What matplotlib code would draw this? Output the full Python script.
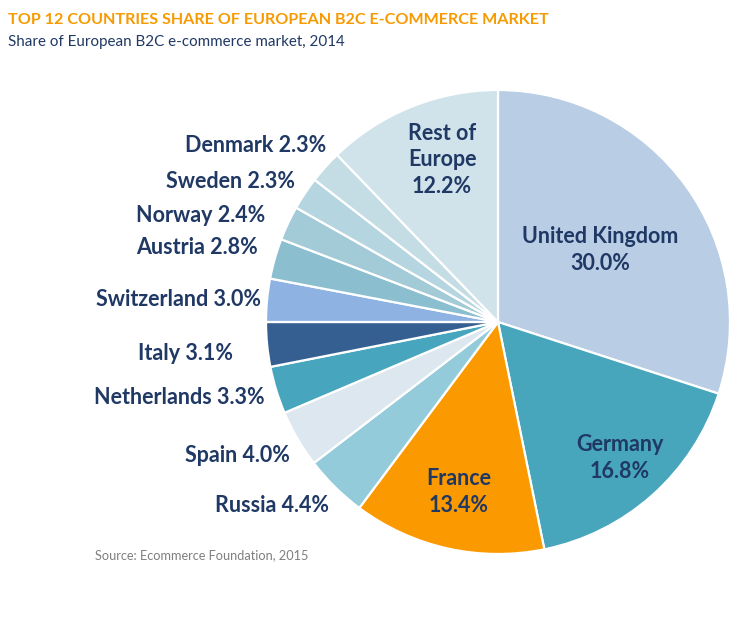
import matplotlib.pyplot as plt

# share of European B2C e-commerce market, 2014 (clockwise from 12 o'clock)
countries = ['United Kingdom', 'Germany', 'France', 'Russia', 'Spain',
             'Netherlands', 'Italy', 'Switzerland', 'Austria', 'Norway',
             'Sweden', 'Denmark', 'Rest of\nEurope']
shares = [30.0, 16.8, 13.4, 4.4, 4.0, 3.3, 3.1, 3.0, 2.8, 2.4, 2.3, 2.3, 12.2]
colors = ['#b9cde5', '#47a5bc', '#fb9a00', '#93cbdb', '#dce7ef', '#47a6bd',
          '#365f91', '#8eb3e3', '#8bbfcf', '#a3cad7', '#b5d6e0', '#c4dde5',
          '#d0e2ea']

navy = '#1f3864'
W, H = 754, 618
cx, cy, r = 498, H - 322, 232

fig = plt.figure(figsize=(W / 100, H / 100), dpi=100)
ax = fig.add_axes([0, 0, 1, 1])
ax.set_xlim(0, W)
ax.set_ylim(0, H)
ax.set_aspect('equal')
ax.axis('off')

ax.pie(shares, colors=colors, startangle=90, counterclock=False,
       center=(cx, cy), radius=r,
       wedgeprops=dict(edgecolor='white', linewidth=1.6))
ax.set_xlim(0, W)
ax.set_ylim(0, H)

# big slices: label inside
inner = {'United Kingdom': (600, 250), 'Germany': (620, 458),
         'France': (459, 492), 'Rest of\nEurope': (442, 160)}
# small slices: label to the left, right-aligned
outer = {'Denmark': (326, 145), 'Sweden': (295, 181), 'Norway': (265, 215),
         'Austria': (258, 248), 'Switzerland': (261, 299), 'Italy': (233, 353),
         'Netherlands': (265, 397), 'Spain': (290, 456), 'Russia': (329, 506)}

font = dict(family=['Lato', 'DejaVu Sans'], weight='bold', color=navy, fontsize=15.5)
for name, val in zip(countries, shares):
    txt = f'{name}\n{val:.1f}%' if name in inner else f'{name} {val:.1f}%'
    if name in inner:
        x, y = inner[name]
        ax.text(x, H - y, txt, ha='center', va='center', linespacing=1.3, **font)
    else:
        x, y = outer[name]
        ax.text(x, H - y, txt, ha='right', va='center', **font)

fig.text(8 / W, 1 - 20 / H, 'TOP 12 COUNTRIES SHARE OF EUROPEAN B2C E-COMMERCE MARKET',
         ha='left', va='center', color='#f79a00', fontsize=11.6, weight='bold',
         family=['Lato', 'DejaVu Sans'])
fig.text(8 / W, 1 - 42 / H, 'Share of European B2C e-commerce market, 2014',
         ha='left', va='center', color=navy, fontsize=10.9, family=['Lato', 'DejaVu Sans'])
fig.text(95 / W, 1 - 555 / H, 'Source: Ecommerce Foundation, 2015',
         ha='left', va='center', color='#7f7f7f', fontsize=9.2, family=['Lato', 'DejaVu Sans'])

fig.savefig('out.png', dpi=100, facecolor='white')
